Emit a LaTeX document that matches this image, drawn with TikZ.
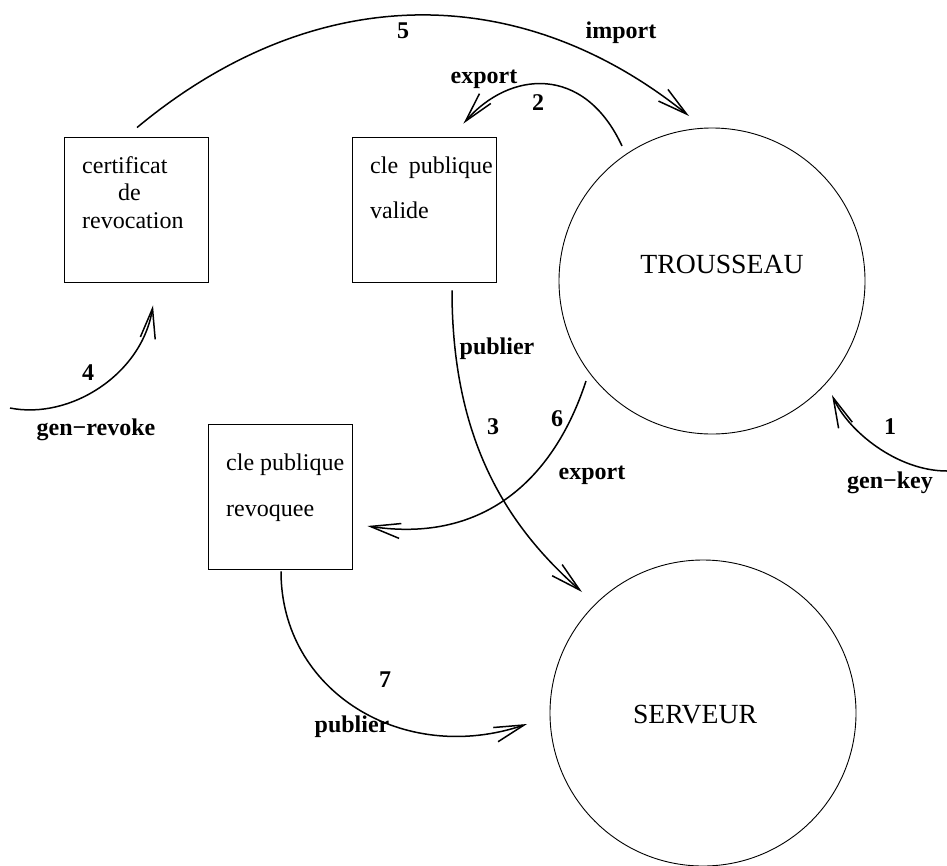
\documentclass[tikz,border=0pt]{standalone}
\usepackage{fontspec}
\setmainfont{Liberation Serif}
\usetikzlibrary{arrows.meta,calc}
\tikzset{
  boxnode/.style={draw, line width=0.9pt, rectangle, minimum width=144pt, minimum height=145pt, inner sep=0pt},
  ringnode/.style={draw, line width=0.9pt, circle, minimum size=306pt, inner sep=0pt},
  arr/.style={line width=1.5pt, -{Straight Barb[length=30pt,width=15pt,line width=1.5pt]}},
  lab/.style={font=\bfseries\fontsize{24}{28}\selectfont, inner sep=0pt, anchor=base},
  txt/.style={font=\fontsize{24}{28}\selectfont, inner sep=0pt, anchor=base west},
  bigtxt/.style={font=\fontsize{27.7}{32}\selectfont, inner sep=0pt, anchor=base},
}
\begin{document}
\begin{tikzpicture}[x=1pt,y=-1pt]
\useasboundingbox (0,0) rectangle (947,865);
% shapes
\node[boxnode] (cert) at (136,209.5) {};
\node[boxnode] (valid) at (424.5,209.5) {};
\node[boxnode] (revq) at (280,497) {};
\node[ringnode] (tr) at (712,281) {};
\node[ringnode] (sv) at (703,713) {};
% texts
\node[txt] (t1) at (82,173) {certificat};
\node[txt] (t2) at (118,200) {de};
\node[txt] (t3) at (82,228) {revocation};
\node[txt] (t4) at (370,173) {cle};
\node[txt,anchor=base east] (t5) at (493,173) {publique};
\node[txt] (t6) at (370,218) {valide};
\node[txt] (t7) at (226,470) {cle publique};
\node[txt] (t8) at (226,516) {revoquee};
\node[bigtxt] (trl) at (722,273) {TROUSSEAU};
\node[bigtxt] (svl) at (695,723) {SERVEUR};
% labels
\node[lab] (l5) at (403,38) {5};
\node[lab] (limp) at (621,38) {import};
\node[lab] (lexp1) at (484,83) {export};
\node[lab] (l2) at (538,110) {2};
\node[lab] (l4) at (88,380) {4};
\node[lab] (lgr) at (96,435) {gen−revoke};
\node[lab] (lpub1) at (497,354) {publier};
\node[lab] (l3) at (493,434) {3};
\node[lab] (l6) at (557,426) {6};
\node[lab] (lexp2) at (592,479) {export};
\node[lab] (l1) at (890,434) {1};
\node[lab] (lgk) at (890,488) {gen−key};
\node[lab] (l7) at (385,687) {7};
\node[lab] (lpub2) at (352,732) {publier};
% free ends
\coordinate (g4) at (10,408);
\coordinate (g1) at (947,471);
% connectors
\draw[arr] ($(cert.north)+(1,-9)$) .. controls +(178,-148) and +(-169,-136) .. ($(tr.center)+(-23,-165)$);
\draw[arr] ($(tr.center)+(-90,-135)$) .. controls +(-38,-82) and +(46,-53) .. ($(valid.north east)+(-33.5,-13)$);
\draw[arr] (g4) .. controls +(60,12) and +(-11,69) .. ($(cert.south)+(17,23)$);
\draw[arr] ($(valid.south)+(27.5,8)$) .. controls +(0,150) and +(-75,-66) .. ($(sv.center)+(-121,-121)$);
\draw[arr] ($(tr.center)+(-126,100)$) .. controls +(-31,95) and +(119,18) .. ($(revq.east)+(15,29)$);
\draw[arr] (g1) .. controls +(-50,0) and +(16,36) .. ($(tr.center)+(120,114)$);
\draw[arr] ($(revq.south)+(1,1.5)$) .. controls +(0,120) and +(-124,42) .. ($(sv.center)+(-176,11)$);
\end{tikzpicture}
\end{document}
